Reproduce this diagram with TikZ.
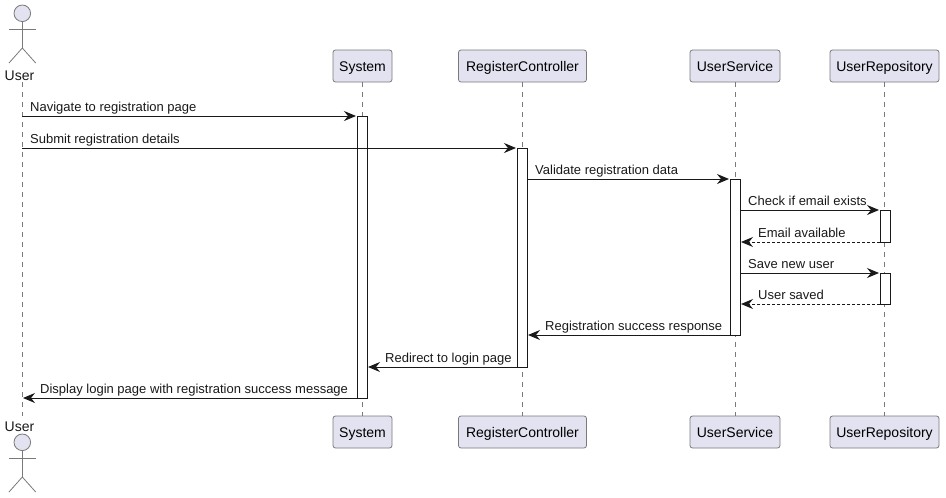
\documentclass[tikz,border=0pt]{standalone}
\usepackage{fontspec}
\setmainfont{Liberation Sans}
\usetikzlibrary{arrows.meta}
\definecolor{partfill}{HTML}{E2E2F0}
\definecolor{partline}{HTML}{7A7A7A}
\tikzset{
  part/.style={draw=partline,fill=partfill,rounded corners=2.5pt,line width=.8pt,
    minimum height=32pt,inner sep=0pt,outer sep=0pt,text height=11pt,text depth=1pt,
    font=\fontsize{14}{16}\selectfont},
  lifeline/.style={draw=partline,line width=.8pt,dash pattern=on 5pt off 5pt},
  actbar/.style={draw=black!90,fill=white,line width=1pt,minimum width=10pt,inner sep=0pt,outer sep=0pt},
  msg/.style={-{Stealth[length=12pt,width=10pt,inset=4pt]},line width=1pt,black!90},
  msglabel/.style={anchor=base west,inner sep=0pt,font=\fontsize{13}{15}\selectfont,black!90},
  stick/.style={draw=partline,line width=.8pt},
  actorname/.style={inner sep=0pt,font=\fontsize{14}{16}\selectfont,black!90}
}
\begin{document}
\begin{tikzpicture}[x=1pt,y=-1pt]
   \useasboundingbox (0,0) rectangle (946,498);
   % participants
   \foreach \n/\x/\w/\l in
     {sys/362.5/59/System,
      ctrl/522.5/128/RegisterController,
      serv/735/90/UserService,
      repo/884.5/109/UserRepository}
   {
     \node[part,minimum width=\w pt] (\n top) at (\x,66) {\l};
     \node[part,minimum width=\w pt] (\n bot) at (\x,432) {\l};
     \draw[lifeline] (\n top) -- (\n bot);
   }
   % the actor, top and bottom
   \foreach \n/\d/\t in {top/0/75.5,bot/429/426.5}
   {
     \node[actorname] (user \n) at (19.5,\t) {User};
     \node[circle,stick,fill=partfill,minimum size=16.6pt,inner sep=0pt,outer sep=0pt] (head \n) at (22.3,13.3+\d) {};
     \coordinate (hip \n) at (22.3,48+\d);
     \coordinate (larm \n) at (9,29+\d);
     \coordinate (rarm \n) at (35.7,29+\d);
     \coordinate (lleg \n) at (9,63+\d);
     \coordinate (rleg \n) at (35.7,63+\d);
     \draw[stick] (head \n) -- (hip \n);
     \draw[stick] (larm \n) -- (rarm \n);
     \draw[stick] (lleg \n) -- (hip \n) -- (rleg \n);
   }
   \coordinate (user a) at (22.3,82);
   \coordinate (user b) at (22.3,416);
   \draw[lifeline] (user a) -- (user b);
   % activations
   \foreach \n/\x/\a/\b in
     {sysact/362/116/398,
      ctrlact/522/148/367,
      servact/735/179/335,
      repoact/885/210/242,
      repoactb/885/273/304}
     \node[actbar,minimum height={(\b-\a)*1pt}] (\n) at (\x,{(\a+\b)/2}) {};
   % messages
   \foreach \i/\xa/\xb/\y/\k/\tx/\l in
     {1/22/356/116/solid/30/{Navigate to registration page},
      2/22/516/148/solid/30/{Submit registration details},
      3/527/729/179/solid/535/{Validate registration data},
      4/740/879/210/solid/748/{Check if email exists},
      5/880/741/242/densely dashed/758/{Email available},
      6/740/879/273/solid/748/{Save new user},
      7/880/741/304/densely dashed/758/{User saved},
      8/730/528/335/solid/545/{Registration success response},
      9/517/368/367/solid/385/{Redirect to login page},
      10/357/23/398/solid/40/{Display login page with registration success message}}
   {
     \coordinate (m\i a) at (\xa,\y);
     \coordinate (m\i b) at (\xb,\y);
     \draw[msg,\k] (m\i a) -- (m\i b);
     \node[msglabel] (t\i) at (\tx,\y-4.5) {\l};
   }
\end{tikzpicture}
\end{document}
